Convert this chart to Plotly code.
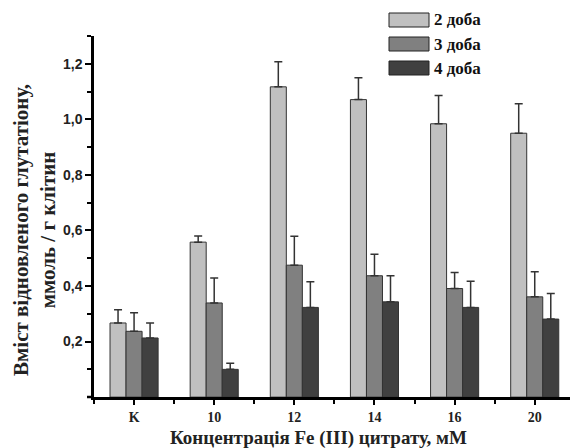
import plotly.graph_objects as go

categories = ["K", "10", "12", "14", "16", "20"]
series_names = ["2 доба", "3 доба", "4 доба"]
day2 = [0.267, 0.558, 1.117, 1.071, 0.984, 0.950]
day3 = [0.237, 0.339, 0.475, 0.437, 0.391, 0.361]
day4 = [0.213, 0.100, 0.323, 0.343, 0.323, 0.281]
day2_err = [0.048, 0.022, 0.090, 0.079, 0.102, 0.106]
day3_err = [0.067, 0.090, 0.104, 0.077, 0.058, 0.090]
day4_err = [0.054, 0.022, 0.092, 0.094, 0.094, 0.092]
y_title = "Вміст відновленого глутатіону,<br>ммоль / г клітин"
x_title = "Концентрація Fe (III) цитрату, мМ"

colors = ["#c0c0c0", "#808080", "#404040"]
values = [day2, day3, day4]
errors = [day2_err, day3_err, day4_err]
xpos = list(range(len(categories)))

serif = "Liberation Serif, Times New Roman, serif"
sans = "Liberation Sans, Arial, sans-serif"

fig = go.Figure()
for name, vals, errs, col in zip(series_names, values, errors, colors):
    fig.add_trace(go.Bar(
        x=xpos, y=vals, name=name,
        marker=dict(color=col, line=dict(color="#333333", width=1)),
        error_y=dict(type="data", symmetric=False, array=errs,
                     arrayminus=[0] * len(errs), color="#333333",
                     thickness=1.5, width=4),
        showlegend=False,
    ))

W, H = 570, 448
pl, pr, pt, pb = 94, 0, 36, 51
pw, ph = W - pl - pr, H - pt - pb
def px(x):
    return (x - pl) / pw
def py(y):
    return (H - pb - y) / ph

fig.update_layout(
    width=W, height=H,
    margin=dict(l=pl, r=pr, t=pt, b=pb),
    paper_bgcolor="white", plot_bgcolor="white",
    barmode="group", bargap=0.4, bargroupgap=0,
    separators=", ",
    xaxis=dict(
        range=[-0.5, 5.44], automargin=False,
        tickmode="array", tickvals=xpos, ticktext=categories,
        ticks="outside", ticklen=5, tickwidth=2, tickcolor="black",
        minor=dict(ticks="outside", dtick=1, tick0=0.5, ticklen=4,
                   tickwidth=2, tickcolor="black"),
        showline=True, linecolor="black", linewidth=2.5,
        showgrid=False, zeroline=False,
        tickfont=dict(family=serif, size=14, color="#222", weight="bold"),
    ),
    yaxis=dict(
        range=[0.0005, 1.3], automargin=False,
        tick0=0, dtick=0.2, tickformat=".1f",
        ticks="outside", ticklen=6, tickwidth=2, tickcolor="black",
        minor=dict(ticks="outside", dtick=0.1, tick0=0, ticklen=4,
                   tickwidth=2, tickcolor="black"),
        showline=True, linecolor="black", linewidth=2.5,
        showgrid=False, zeroline=False,
        tickfont=dict(family=sans, size=14, color="#222", weight="bold"),
    ),
)

# short extension of the x axis line to the left of the y axis
fig.add_shape(type="line", xref="paper", yref="paper",
              x0=px(87), x1=0, y0=0, y1=0,
              line=dict(color="black", width=2.5))

# axis titles
fig.add_annotation(xref="paper", yref="paper", x=px(34), y=py(230),
                   text=y_title, showarrow=False, textangle=-90,
                   xanchor="center", yanchor="middle",
                   font=dict(family=serif, size=21, color="#222", weight="bold"))
fig.add_annotation(xref="paper", yref="paper", x=px(318), y=py(438),
                   text=x_title, showarrow=False,
                   xanchor="center", yanchor="middle",
                   font=dict(family=serif, size=19, color="#222", weight="bold"))

# Legend drawn as boxes + labels in paper space
leg_x0, leg_x1 = 389, 429
leg_rows = [20, 44, 68]
for name, col, yc in zip(series_names, colors, leg_rows):
    fig.add_shape(type="rect", xref="paper", yref="paper",
                  x0=px(leg_x0), x1=px(leg_x1), y0=py(yc + 7), y1=py(yc - 7),
                  fillcolor=col, line=dict(color="#222", width=1))
    fig.add_annotation(xref="paper", yref="paper", x=px(leg_x1 + 3), y=py(yc),
                       text=name, showarrow=False, xanchor="left", yanchor="middle",
                       font=dict(family=serif, size=17, color="#111", weight="bold"))

fig.write_html("out.html", config={"displayModeBar": False},
               post_script="document.body.style.margin='0';document.body.style.overflow='hidden';")
